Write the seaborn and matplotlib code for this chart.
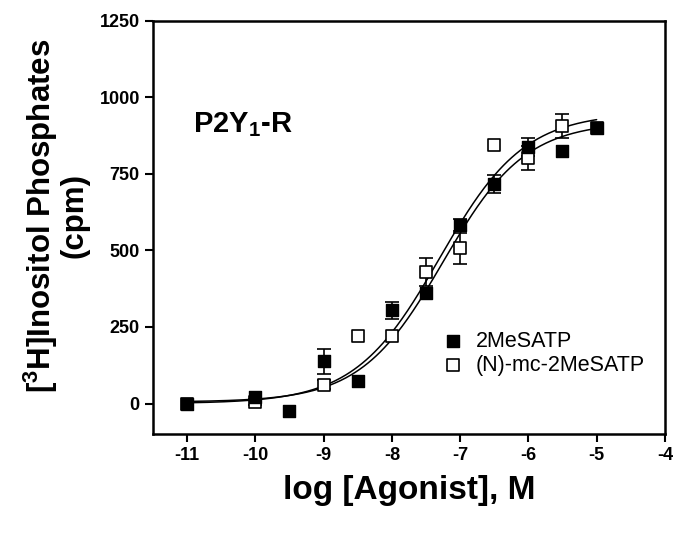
import numpy as np
import pandas as pd
import matplotlib
matplotlib.use("Agg")
import matplotlib.pyplot as plt
import seaborn as sns

# log [agonist] (M) and responses
log_conc = [-11, -10, -9.5, -9, -8.5, -8, -7.5, -7, -6.5, -6, -5.5, -5]
mesatp = [0, 22, -25, 138, 75, 305, 360, 582, 717, 838, 825, 900]
mesatp_err = [0, 0, 0, 40, 0, 28, 0, 20, 30, 30, 0, 0]

mc_conc = [-11, -10, -9, -8.5, -8, -7.5, -7, -6.5, -6, -5.5, -5]
mc_mesatp = [0, 5, 62, 222, 219, 429, 507, 844, 802, 906, 900]
mc_err = [0, 10, 15, 0, 0, 45, 50, 0, 40, 40, 0]

# sigmoid fit parameters: bottom, top, logEC50, hill slope
fit_names = ["2MeSATP", "(N)-mc-2MeSATP"]
fit_bottom = [5, 0]
fit_top = [920, 950]
fit_logec50 = [-7.25, -7.3]
fit_hill = [0.72, 0.70]

y_ticks = [0, 250, 500, 750, 1000, 1250]
x_ticks = [-11, -10, -9, -8, -7, -6, -5, -4]

sns.set_style("ticks")
plt.rcParams["font.family"] = ["Liberation Sans", "DejaVu Sans"]
plt.rcParams["mathtext.default"] = "regular"
plt.rcParams["text.color"] = "black"
plt.rcParams["axes.labelcolor"] = "black"

df_a = pd.DataFrame({"x": log_conc, "y": mesatp, "err": mesatp_err})
df_b = pd.DataFrame({"x": mc_conc, "y": mc_mesatp, "err": mc_err})

# fitted curves
xs = np.linspace(-11, -5, 300)
curves = []
for name, b, t, ec, h in zip(fit_names, fit_bottom, fit_top, fit_logec50, fit_hill):
    curves.append(pd.DataFrame({"x": xs,
                                "y": b + (t - b) / (1 + 10 ** ((ec - xs) * h)),
                                "agonist": name}))
fit_df = pd.concat(curves)

fig, ax = plt.subplots(figsize=(6.89, 5.34), dpi=100)
fig.subplots_adjust(left=0.222, right=0.965, top=0.961, bottom=0.187)

sns.lineplot(data=fit_df, x="x", y="y", hue="agonist",
             palette={n: "black" for n in fit_names}, linewidth=1.1,
             legend=False, ax=ax, zorder=2)

for d in (df_a, df_b):
    e = d[d["err"] > 0]
    ax.errorbar(e["x"], e["y"], yerr=e["err"], fmt="none", ecolor="black",
                elinewidth=1.2, capsize=5.2, capthick=1.2, zorder=3)

sns.scatterplot(data=df_b, x="x", y="y", marker="s", s=82, color="white",
                edgecolor="black", linewidth=1.2, label="(N)-mc-2MeSATP",
                ax=ax, zorder=4)
sns.scatterplot(data=df_a, x="x", y="y", marker="s", s=82, color="black",
                edgecolor="black", linewidth=1.0, label="2MeSATP",
                ax=ax, zorder=5)

ax.set_xlim(-11.5, -4)
ax.set_ylim(-100, 1250)
ax.set_xticks(x_ticks)
ax.set_yticks(y_ticks)
ax.set_xticklabels([str(t) for t in x_ticks])
ax.tick_params(direction="out", length=6, width=1.5, labelsize=13, colors="black")
for lab in ax.get_xticklabels() + ax.get_yticklabels():
    lab.set_fontweight("bold")
for sp in ax.spines.values():
    sp.set_visible(True)
    sp.set_linewidth(1.8)
    sp.set_color("black")

ax.set_xlabel("log [Agonist], M", fontsize=24, fontweight="bold", labelpad=8)
ax.set_ylabel("[$^3$H]Inositol Phosphates\n(cpm)", fontsize=22.5,
              fontweight="bold", linespacing=1.0)
ax.yaxis.set_label_coords(-0.123, 0.528)

ax.text(-10.91, 887, "P2Y$_1$-R", fontsize=21, fontweight="bold",
        ha="left", va="baseline")

handles, labels = ax.get_legend_handles_labels()
order = [labels.index("2MeSATP"), labels.index("(N)-mc-2MeSATP")]
ax.legend([handles[i] for i in order], [labels[i] for i in order],
          loc="center left", bbox_to_anchor=(0.566, 0.196), frameon=False,
          fontsize=15.5, handlelength=0.95, handletextpad=0.6,
          borderpad=0, borderaxespad=0, labelspacing=0.15)

plt.savefig("out.png", dpi=100)
